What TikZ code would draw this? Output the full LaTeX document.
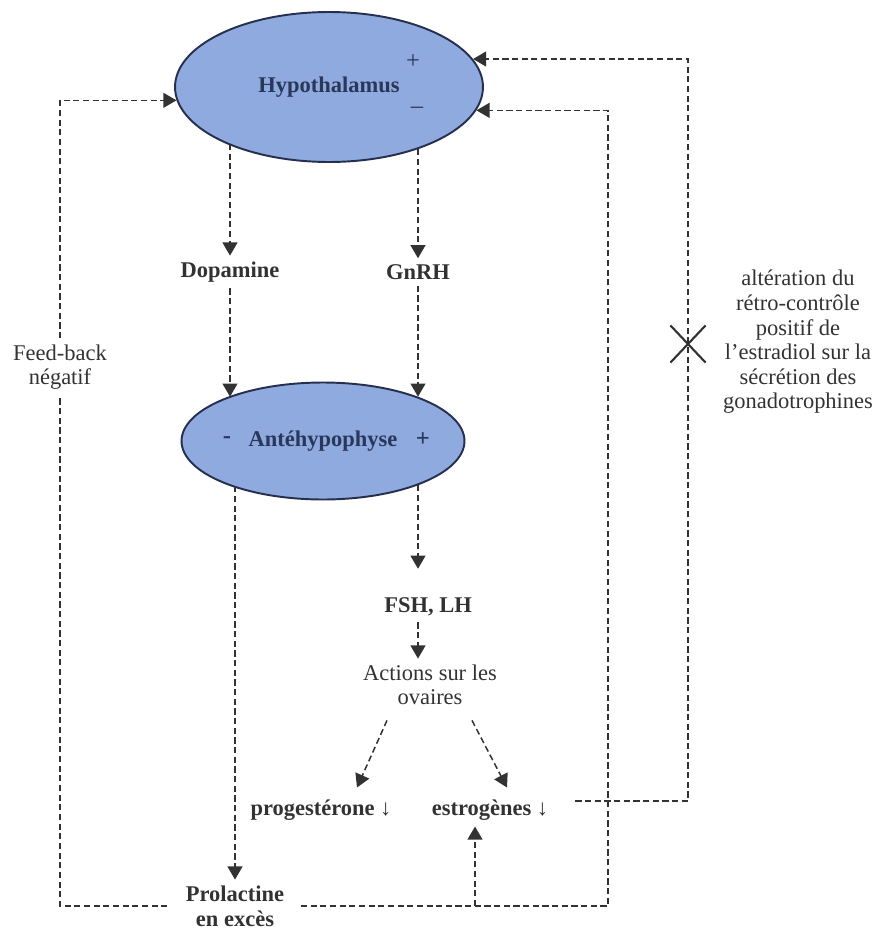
\documentclass[tikz,border=0pt]{standalone}
\usepackage{fontspec}
\setmainfont{Liberation Serif}
\usetikzlibrary{shapes.geometric, shapes.misc, arrows.meta, calc}
\definecolor{organfill}{RGB}{143,170,222}
\definecolor{organline}{RGB}{38,48,78}
\definecolor{organtext}{RGB}{40,55,90}
\definecolor{textgray}{RGB}{50,50,50}
\definecolor{linegray}{RGB}{50,50,50}

\begin{document}
\begin{tikzpicture}[
    x=0.02cm, y=-0.02cm,
    organ/.style={ellipse, draw=organline, line width=1.1pt, fill=organfill, inner sep=0pt, font=\fontsize{12.8}{14}\selectfont\bfseries, text=organtext},
    sign/.style={font=\fontsize{14}{14}\selectfont, text=organtext, inner sep=1pt},
    hormone/.style={font=\fontsize{12.8}{14}\selectfont\bfseries, text=textgray, align=center},
    note/.style={font=\fontsize{12.8}{14}\selectfont, text=textgray, align=center},
    flow/.style={draw=linegray, line width=0.85pt, dash pattern=on 3.5pt off 2pt, -{Triangle[length=7.5pt, width=8.5pt]}},
    link/.style={draw=linegray, line width=0.85pt, dash pattern=on 3.5pt off 2pt}
]
    \useasboundingbox (0,0) rectangle (877,930);

    % Glands
    \node[organ, minimum width=6.16cm, minimum height=3cm] (hypo) at (329,87) {Hypothalamus};
    \node[sign] (hypoplus) at (413,62) {+};
    \node[sign] (hypominus) at (417,110) {–};
    \node[organ, minimum width=5.66cm, minimum height=2.34cm] (ante) at (323,441) {Antéhypophyse};
    \node[sign] (anteminus) at (227,440) {\bfseries -};
    \node[sign] (anteplus) at (423,440) {\bfseries +};

    % Hormones
    \node[hormone] (dopa) at (230,272) {Dopamine};
    \node[hormone] (gnrh) at (418,272) {GnRH};
    \node[hormone] (fsh) at (428,607) {FSH, LH};
    \node[note] (acts) at (430,685) {Actions sur les\\ovaires};
    \node[hormone] (prog) at (321,810) {progestérone ↓};
    \node[hormone] (estro) at (490,810) {estrogènes ↓};
    \node[hormone] (prol) at (235,906) {Prolactine\\en excès};

    % Notes
    \node[note] (fb) at (60,367) {Feed-back\\négatif};
    \node[note] (alter) at (798,342) {altération du\\rétro-contrôle\\positif de\\l’estradiol sur la\\sécrétion des\\gonadotrophines};
    \node[cross out, draw=linegray, line width=1.2pt, minimum width=0.66cm, minimum height=0.7cm] (xcross) at (688,344) {};
    \coordinate (negcorner) at (608,906);
    \coordinate (estrobranch) at (475,906);

    % Connections
    \draw[flow] (dopa.north |- hypo.209) -- (dopa.north);
    \draw[flow] (gnrh.north |- hypo.-35) -- (gnrh.north);
    \draw[flow] (dopa.south) -- (dopa.south |- ante.155);
    \draw[flow] (gnrh.south) -- (gnrh.south |- ante.25);
    \draw[flow] (prol.north |- ante.206) -- (prol.north);
    \draw[flow, shorten >=13pt] (ante.-25) -- (ante.-25 |- fsh.north);
    \draw[flow] (fsh.south -| ante.-25) -- (acts.north -| ante.-25);
    \draw[flow] ($(acts.south)+(-43,9)$) -- ($(prog.north)+(36,-6)$);
    \draw[flow] ($(acts.south)+(42,9)$) -- ($(estro.north)+(17,-6)$);

    % Feedback loops
    \draw[link, shorten <=7pt] (prol.west) -| (fb.south);
    \draw[flow] (fb.north) |- (hypo.185);
    \draw[flow, shorten <=12pt] (estro.8) -| (xcross.center) |- (hypo.11);
    \draw[flow, shorten <=6pt] (prol.east) -- (negcorner) |- (hypo.-9);
    \draw[flow] (estrobranch) -- (estrobranch |- estro.south);
\end{tikzpicture}
\end{document}
